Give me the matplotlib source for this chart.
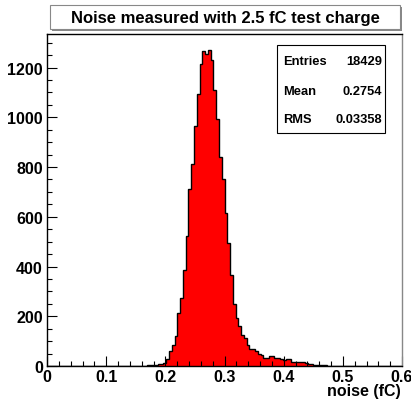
import matplotlib
matplotlib.use('Agg')
import matplotlib.pyplot as plt
import numpy as np
from matplotlib.patches import Rectangle
from matplotlib.ticker import MultipleLocator

# histogram: 128 bins from 0 to 0.6 fC
x_min, x_max, n_bins = 0.0, 0.6, 128
counts = [0, 0, 0, 0, 2, 0, 0, 0, 0, 0, 0, 0, 0, 0, 1, 0, 0, 0, 0, 0,
          0, 0, 0, 0, 0, 0, 0, 1, 0, 0, 0, 1, 0, 2, 2, 2,
          3, 4, 5, 6, 7,
          8, 14, 30, 62, 84, 121, 215, 275, 388,
          524, 712, 812, 964, 1095, 1215, 1268, 1255, 1272, 1231, 1108, 995,
          841, 751, 617, 495, 367, 251, 195, 159, 124, 111, 84, 68,
          68, 61, 48, 44, 34, 33, 39, 40, 32, 31, 30, 24, 28, 27, 17, 17,
          16, 17, 15, 14, 10, 7, 6, 5, 4, 3, 3,
          2, 1, 2, 1, 1, 0, 1, 0, 0, 1, 0, 0, 0, 0, 1, 0, 0, 0, 0, 0,
          0, 0, 0, 0, 0, 0, 0]

title = 'Noise measured with 2.5 fC test charge'
xlabel = 'noise (fC)'
stat_names = ['Entries', 'Mean', 'RMS']
stat_values = ['18429', '0.2754', '0.03358']

plt.rcParams['font.family'] = ['Liberation Sans', 'DejaVu Sans']
plt.rcParams['font.weight'] = 'bold'

edges = np.linspace(x_min, x_max, n_bins + 1)

fig = plt.figure(figsize=(4.11, 4.02), dpi=100)
ax = fig.add_axes([47/411, 1-367/402, 355/411, 332/402])

ax.stairs(counts, edges, fill=True, color='#ff0000', baseline=0)
ax.stairs(counts, edges, color='black', lw=1.0, baseline=0)

ax.set_xlim(x_min, x_max)
ax.set_ylim(0, 1335)

ax.xaxis.set_major_locator(MultipleLocator(0.1))
ax.xaxis.set_minor_locator(MultipleLocator(0.02))
ax.yaxis.set_major_locator(MultipleLocator(200))
ax.yaxis.set_minor_locator(MultipleLocator(50))
ax.xaxis.set_major_formatter(plt.FuncFormatter(lambda v, p: '0' if abs(v) < 1e-9 else '%.1f' % v))

ax.tick_params(which='both', direction='in', top=False, right=False,
               labelsize=11.5, width=0.8, color='black')
ax.tick_params(which='major', length=7.5)
ax.tick_params(which='minor', length=3.5)
ax.tick_params(axis='y', pad=3)
ax.tick_params(axis='x', pad=2)
for lab in ax.get_xticklabels() + ax.get_yticklabels():
    lab.set_fontweight('bold')

for s in ['left', 'bottom', 'top']:
    ax.spines[s].set_color('black')
    ax.spines[s].set_linewidth(1.0)
ax.spines['right'].set_color('#888888')
ax.spines['right'].set_linewidth(1.0)

ax.text(0.997, -0.075, xlabel, transform=ax.transAxes, ha='right', va='center',
        fontsize=11.5, fontweight='bold')

# title box with shadow
bx0, bx1 = 50/411, 400/411
by0, by1 = 1-30/402, 1-6/402
fig.patches.append(Rectangle((bx0 + 1.5/411, by0 - 1.5/402), bx1-bx0, by1-by0,
                             transform=fig.transFigure, facecolor='#888888',
                             edgecolor='none', zorder=1))
fig.patches.append(Rectangle((bx0, by0), bx1-bx0, by1-by0,
                             transform=fig.transFigure, facecolor='white',
                             edgecolor='#888888', lw=0.8, zorder=2))
fig.text((bx0+bx1)/2, (by0+by1)/2, title, ha='center', va='center',
         fontsize=12, fontweight='bold', zorder=3)

# stats box
ax.add_patch(Rectangle((0.647, 0.702), 0.305, 0.265, transform=ax.transAxes,
                       facecolor='white', edgecolor='black', lw=0.8, zorder=5))
row_y = [0.9196, 0.8274, 0.744]
for name, val, yy in zip(stat_names, stat_values, row_y):
    ax.text(0.666, yy, name, transform=ax.transAxes, ha='left', va='center',
            fontsize=9.3, fontweight='bold', zorder=6)
    ax.text(0.943, yy, val, transform=ax.transAxes, ha='right', va='center',
            fontsize=9.3, fontweight='bold', zorder=6)

fig.savefig('out.png', dpi=100)
